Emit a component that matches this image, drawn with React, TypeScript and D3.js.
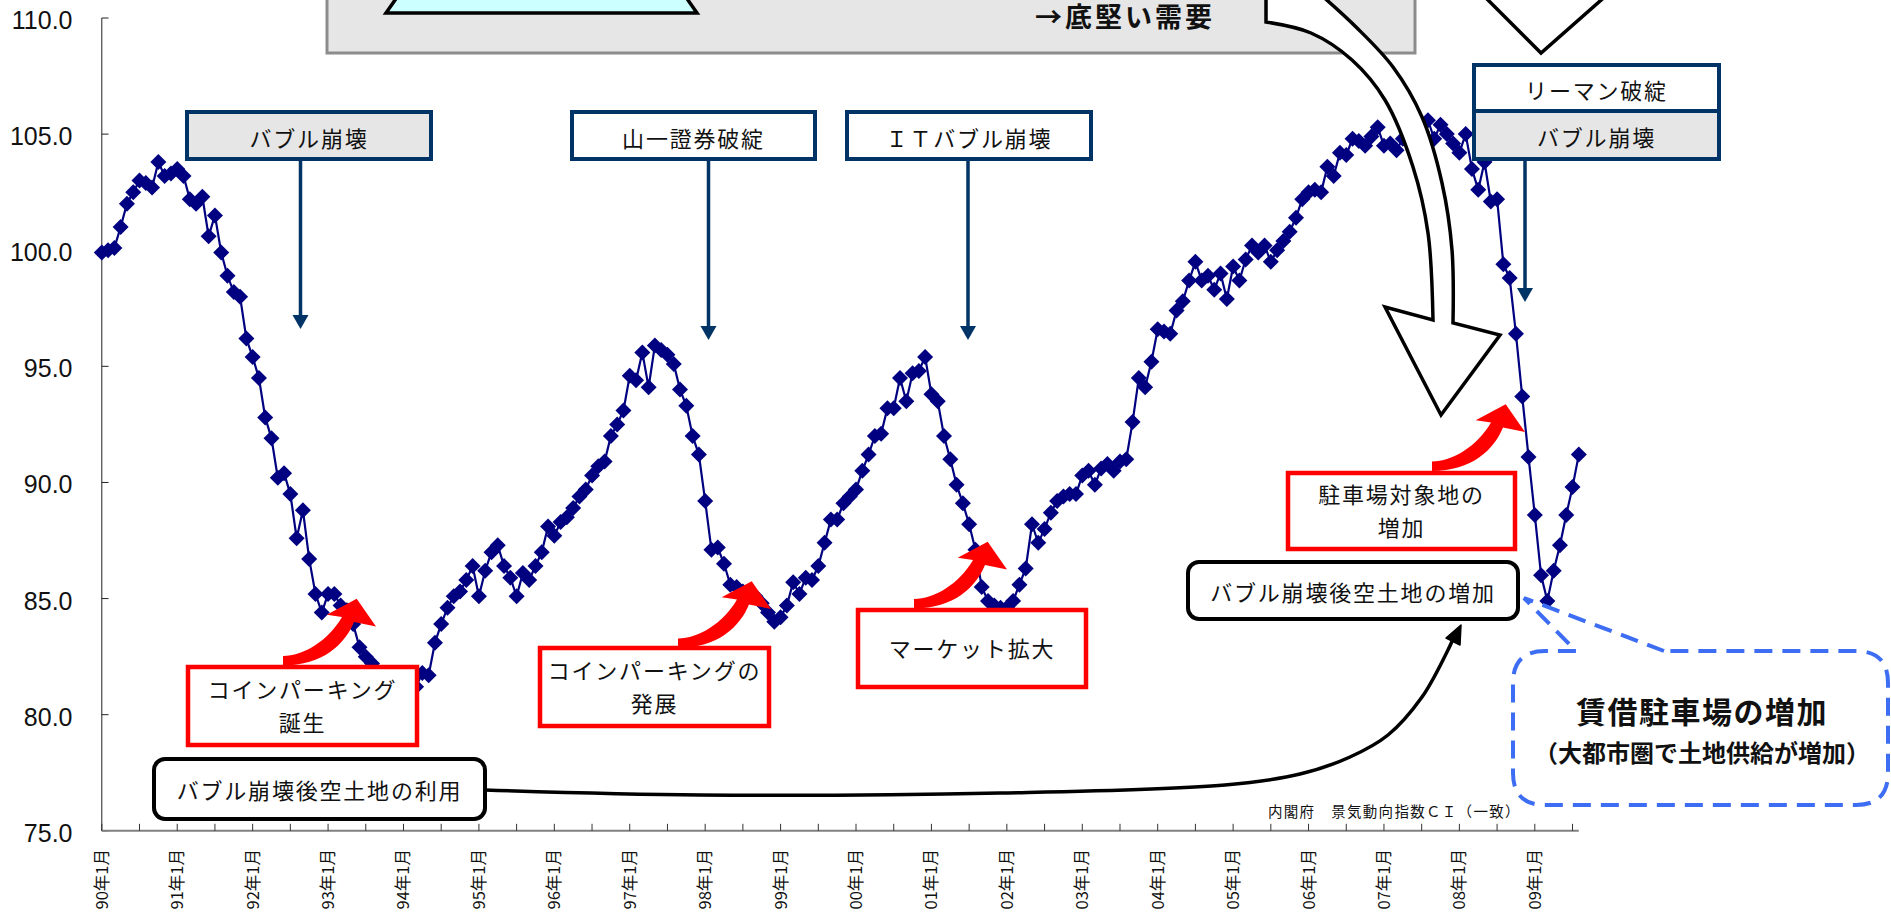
import React from "react";
import * as d3 from "d3";

// 景気動向指数CI（一致） monthly values
const ci1990 = [99.9, 100.0, 100.1, 101.0, 102.0, 102.5, 103.0, 102.9, 102.7, 103.8, 103.2, 103.3];
const ci1991 = [103.5, 103.2, 102.2, 102.0, 102.3, 100.6, 101.5, 99.9, 98.9, 98.2, 98.0, 96.2];
const ci1992 = [95.4, 94.5, 92.8, 91.9, 90.2, 90.4, 89.5, 87.6, 88.8, 86.7, 85.2, 84.4];
const ci1993 = [85.2, 85.2, 84.7, 84.5, 83.9, 82.9, 82.5, 82.2, 81.7, 81.3, 81.0, 80.8];
const ci1994 = [80.6, 80.8, 81.2, 81.8, 81.7, 83.1, 83.9, 84.6, 85.1, 85.3, 85.8, 86.4];
const ci1995 = [85.1, 86.2, 87.0, 87.3, 86.4, 85.9, 85.1, 86.1, 85.8, 86.4, 87.0, 88.1];
const ci1996 = [87.7, 88.3, 88.5, 88.9, 89.4, 89.7, 90.3, 90.7, 90.9, 92.0, 92.5, 93.1];
const ci1997 = [94.6, 94.4, 95.6, 94.1, 95.9, 95.7, 95.5, 95.1, 94.0, 93.3, 92.0, 91.2];
const ci1998 = [89.2, 87.1, 87.2, 86.5, 85.6, 85.5, 85.3, 85.1, 85.1, 84.8, 84.4, 84.0];
const ci1999 = [84.2, 84.7, 85.7, 85.2, 85.9, 85.8, 86.4, 87.4, 88.4, 88.4, 89.1, 89.4];
const ci2000 = [89.7, 90.5, 91.2, 92.0, 92.1, 93.2, 93.2, 94.5, 93.5, 94.7, 94.8, 95.4];
const ci2001 = [93.8, 93.5, 92.0, 91.0, 89.9, 89.1, 88.2, 87.1, 85.5, 84.9, 84.7, 84.6];
const ci2002 = [84.6, 84.9, 85.6, 86.3, 88.2, 87.4, 88.0, 88.7, 89.2, 89.4, 89.5, 89.5];
const ci2003 = [90.3, 90.5, 89.9, 90.6, 90.8, 90.5, 90.9, 91.0, 92.6, 94.5, 94.1, 95.2];
const ci2004 = [96.6, 96.5, 96.4, 97.4, 97.8, 98.7, 99.5, 98.7, 98.9, 98.3, 99.0, 97.9];
const ci2005 = [99.3, 98.7, 99.6, 100.2, 99.9, 100.2, 99.5, 100.0, 100.4, 100.8, 101.4, 102.2];
const ci2006 = [102.5, 102.6, 102.5, 103.6, 103.2, 104.2, 104.1, 104.8, 104.7, 104.5, 104.9, 105.3];
const ci2007 = [104.5, 104.6, 104.3, 104.8, 105.0, 105.2, 105.1, 105.6, 104.8, 105.4, 105.0, 104.6];
const ci2008 = [104.2, 105.0, 103.5, 102.6, 103.8, 102.1, 102.2, 99.4, 98.8, 96.4, 93.7, 91.1];
const ci2009 = [88.6, 86.0, 84.9, 86.2, 87.3, 88.6, 89.8, 91.2];

const yearLabels = [
  "90年1月", "91年1月", "92年1月", "93年1月", "94年1月", "95年1月", "96年1月",
  "97年1月", "98年1月", "99年1月", "00年1月", "01年1月", "02年1月", "03年1月",
  "04年1月", "05年1月", "06年1月", "07年1月", "08年1月", "09年1月",
];
const yTicks = [75, 80, 85, 90, 95, 100, 105, 110];

const series = [
  ...ci1990, ...ci1991, ...ci1992, ...ci1993, ...ci1994, ...ci1995, ...ci1996,
  ...ci1997, ...ci1998, ...ci1999, ...ci2000, ...ci2001, ...ci2002, ...ci2003,
  ...ci2004, ...ci2005, ...ci2006, ...ci2007, ...ci2008, ...ci2009,
];

const JP = "'Noto Sans CJK JP', 'Noto Sans', sans-serif";
const NAVY = "#003366";

const x = d3.scaleLinear().domain([0, series.length - 1]).range([101.8, 1578.8]);
const y = d3.scaleLinear().domain([75, 110]).range([830.8, 18]);

const line = d3
  .line<number>()
  .x((_, i) => x(i))
  .y((d) => y(d));

const smooth = d3.line().curve(d3.curveCatmullRom.alpha(0.5));

function RedArrow({ bx, by }: { bx: number; by: number }) {
  return (
    <path
      transform={`translate(${bx},${by})`}
      d="M0,0 C20,0 45,-15 59,-39 L43.7,-41.3 L73.7,-57.3 L93,-29.5 L71,-34 C62,-12 40,9.5 0,9.5 Z"
      fill="#ff0000"
    />
  );
}

function NavyLabel({
  x0, y0, w, h, fill, text,
}: { x0: number; y0: number; w: number; h: number; fill: string; text: string }) {
  return (
    <g>
      <rect x={x0} y={y0} width={w} height={h} fill={fill} stroke={NAVY} strokeWidth={4} />
      <text
        x={x0 + w / 2}
        y={y0 + h / 2 + 1}
        textAnchor="middle"
        dominantBaseline="central"
        fontFamily={JP}
        fontSize={22}
        letterSpacing={1.8}
        fill="#111"
      >
        {text}
      </text>
    </g>
  );
}

function NavyArrow({ ax, y0, y1 }: { ax: number; y0: number; y1: number }) {
  return (
    <g>
      <line x1={ax} x2={ax} y1={y0} y2={y1 - 12} stroke={NAVY} strokeWidth={3.5} />
      <path d={`M${ax - 8},${y1 - 14} L${ax + 8},${y1 - 14} L${ax},${y1} Z`} fill={NAVY} />
    </g>
  );
}

function RedBox({
  x0, y0, w, h, lines,
}: { x0: number; y0: number; w: number; h: number; lines: string[] }) {
  const cy = y0 + h / 2;
  const step = 33;
  return (
    <g>
      <rect x={x0} y={y0} width={w} height={h} fill="#fff" stroke="#ff0000" strokeWidth={4.5} />
      {lines.map((t, k) => (
        <text
          key={k}
          x={x0 + w / 2}
          y={cy + (k - (lines.length - 1) / 2) * step - 2}
          textAnchor="middle"
          dominantBaseline="central"
          fontFamily={JP}
          fontSize={22}
          letterSpacing={1.8}
          fill="#111"
        >
          {t}
        </text>
      ))}
    </g>
  );
}

function BlackBox({ x0, y0, w, h, text }: { x0: number; y0: number; w: number; h: number; text: string }) {
  return (
    <g>
      <rect x={x0} y={y0} width={w} height={h} rx={11} fill="#fff" stroke="#000" strokeWidth={4} />
      <text
        x={x0 + w / 2}
        y={y0 + h / 2}
        textAnchor="middle"
        dominantBaseline="central"
        fontFamily={JP}
        fontSize={22}
        letterSpacing={1.8}
        fill="#111"
      >
        {text}
      </text>
    </g>
  );
}

export default function App() {
  const leftEdge = smooth([
    [1266, 22], [1311, 33], [1352, 60], [1385, 100], [1413, 167], [1428, 233], [1433, 320],
  ]) as string;
  const rightEdge = smooth([
    [1453, 323], [1452, 250], [1442, 183], [1422, 117], [1393, 67], [1356, 27], [1320, -6],
  ]) as string;
  const hollowArrow =
    "M1266,-6 L1266,22 " +
    leftEdge.replace(/^M[^C]*/, "") +
    " L1385,307 L1441,415 L1500,335 " +
    rightEdge.replace(/^M/, "L") +
    " Z";

  const connector = smooth([
    [485, 790], [700, 795], [1000, 793], [1225, 785], [1300, 774], [1350, 757],
    [1388, 735], [1422, 697], [1446, 654], [1454, 637],
  ]) as string;

  const diamond = "M0,-8 L8,0 L0,8 L-8,0 Z";

  return (
    <div style={{ position: "absolute", left: 0, top: 0 }}>
      <svg width={1891} height={917} style={{ display: "block", background: "#fff" }}>
        {/* top grey panel */}
        <rect x={327} y={-10} width={1088} height={63} fill="#e6e6e6" stroke="#8c8c8c" strokeWidth={3} />
        <path d="M409,-20 L386,13 L697,13 L674,-20 Z" fill="#ccffff" stroke="#000" strokeWidth={3.5} />
        <text x={1035} y={27} fontFamily={JP} fontSize={27} fontWeight={700} letterSpacing={3} fill="#111">
          →底堅い需要
        </text>

        {/* y axis */}
        <line x1={101.8} x2={101.8} y1={y(110)} y2={y(75)} stroke="#222" strokeWidth={1} />
        {yTicks.map((t) => (
          <g key={t}>
            <line x1={101.8} x2={108.5} y1={y(t)} y2={y(t)} stroke="#222" strokeWidth={1} />
            <text
              x={72.5}
              y={y(t) + 2}
              textAnchor="end"
              dominantBaseline="central"
              fontFamily="'Liberation Sans', Arial, sans-serif"
              fontSize={25}
              fill="#111"
            >
              {t.toFixed(1)}
            </text>
          </g>
        ))}

        {/* x axis */}
        <line x1={x(0)} x2={x(series.length - 1)} y1={y(75)} y2={y(75)} stroke="#808080" strokeWidth={2} />
        {d3.range(0, series.length, 6).map((m) => (
          <line key={m} x1={x(m)} x2={x(m)} y1={y(75)} y2={y(75) - 7} stroke="#333" strokeWidth={1} />
        ))}
        {yearLabels.map((lab, k) => (
          <text
            key={lab}
            transform={`translate(${x(k * 12) - 1},849) rotate(-90)`}
            textAnchor="end"
            dominantBaseline="central"
            fontFamily={JP}
            fontSize={16.5}
            fill="#111"
          >
            {lab}
          </text>
        ))}

        {/* data line */}
        <path d={line(series) as string} fill="none" stroke="#000080" strokeWidth={2.2} />
        {series.map((v, i) => (
          <path key={i} d={diamond} transform={`translate(${x(i)},${y(v)})`} fill="#000080" />
        ))}

        {/* event labels */}
        <NavyLabel x0={187} y0={112} w={244} h={47} fill="#e6e6e6" text="バブル崩壊" />
        <NavyArrow ax={300.5} y0={159} y1={329} />
        <NavyLabel x0={572} y0={112} w={243} h={47} fill="#fff" text="山一證券破綻" />
        <NavyArrow ax={708.5} y0={159} y1={340} />
        <NavyLabel x0={847} y0={112} w={244} h={47} fill="#fff" text="ＩＴバブル崩壊" />
        <NavyArrow ax={968} y0={159} y1={340} />
        <NavyLabel x0={1474} y0={65} w={245} h={46} fill="#fff" text="リーマン破綻" />
        <NavyLabel x0={1474} y0={111} w={245} h={48} fill="#e6e6e6" text="バブル崩壊" />
        <NavyArrow ax={1525} y0={159} y1={302} />

        {/* red notes */}
        <RedArrow bx={283} by={656} />
        <RedBox x0={188} y0={667} w={229} h={78} lines={["コインパーキング", "誕生"]} />
        <RedArrow bx={678} by={638.5} />
        <RedBox x0={540} y0={648} w={229} h={78} lines={["コインパーキングの", "発展"]} />
        <RedArrow bx={914} by={599} />
        <RedBox x0={858} y0={610} w={228} h={77} lines={["マーケット拡大"]} />
        <RedArrow bx={1432} by={461.5} />
        <RedBox x0={1288} y0={473} w={227} h={76} lines={["駐車場対象地の", "増加"]} />

        {/* black notes and curved connector */}
        <BlackBox x0={154} y0={759} w={331} h={60} text="バブル崩壊後空土地の利用" />
        <BlackBox x0={1188} y0={562} w={330} h={57} text="バブル崩壊後空土地の増加" />
        <path d={connector} fill="none" stroke="#000" strokeWidth={3.5} />
        <path d="M1461,625 L1460,645 L1446,638 Z" fill="#000" stroke="#000" strokeWidth={1.5} strokeLinejoin="round" />

        {/* hollow arrows */}
        <path d={hollowArrow} fill="#fff" stroke="#000" strokeWidth={3.5} strokeLinejoin="miter" />
        <path d="M1482,-6 L1541,53 L1608,-6 Z" fill="#fff" stroke="#000" strokeWidth={3.5} />

        {/* blue dashed callout */}
        <path
          d="M1664,651 L1524,598 L1576,651 L1545,651 Q1513,651 1513,683 L1513,773 Q1513,805 1545,805 L1856,805 Q1888,805 1888,773 L1888,683 Q1888,651 1856,651 Z"
          fill="#fff"
          stroke="#3d6df2"
          strokeWidth={4}
          strokeDasharray="18 10"
        />
        <text x={1702} y={710} textAnchor="middle" dominantBaseline="central" fontFamily={JP} fontSize={30} fontWeight={700} letterSpacing={1.5} fill="#111">
          賃借駐車場の増加
        </text>
        <text x={1702} y={751} textAnchor="middle" dominantBaseline="central" fontFamily={JP} fontSize={24} fontWeight={700} fill="#111">
          （大都市圏で土地供給が増加）
        </text>

        {/* source */}
        <text x={1268} y={810} dominantBaseline="central" fontFamily={JP} fontSize={14.5} letterSpacing={1.3} fill="#111">
          内閣府　景気動向指数ＣＩ（一致）
        </text>
      </svg>
    </div>
  );
}
